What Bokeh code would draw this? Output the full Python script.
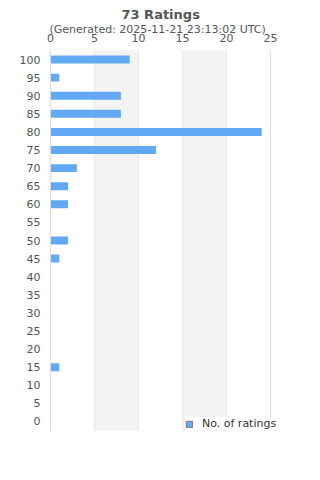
from bokeh.plotting import figure
from bokeh.models import Title, FixedTicker, Legend, LegendItem, Range1d, ColumnDataSource, BoxAnnotation
from bokeh.embed import file_html
from bokeh.resources import INLINE

ratings = [0, 5, 10, 15, 20, 25, 30, 35, 40, 45, 50, 55, 60, 65, 70, 75, 80, 85, 90, 95, 100]
counts = [0, 0, 0, 1, 0, 0, 0, 0, 0, 1, 2, 0, 2, 2, 3, 12, 24, 8, 8, 1, 9]
x_ticks = [0, 5, 10, 15, 20, 25]
bands = [(5, 10), (15, 20)]
title_text = "73 Ratings"
subtitle_text = "(Generated: 2025-11-21 23:13:02 UTC)"
series_name = "No. of ratings"

BAR = "#62a8f2"
TXT = "#555555"
FONT = "DejaVu Sans"
X_MAX = 25
X_EXTRA = 20 / 8.8   # empty room right of the axis so the legend is not clipped

p = figure(width=320, height=480, x_range=Range1d(0, X_MAX + X_EXTRA), y_range=Range1d(-2.5, 102.5),
           x_axis_location="above", output_backend="svg", toolbar_location=None,
           title_location=None, min_border_left=50, min_border_right=30,
           min_border_top=50, min_border_bottom=50)
p.background_fill_color = "white"
p.border_fill_color = "white"
p.outline_line_color = None

for b0, b1 in bands:
    p.add_layout(BoxAnnotation(left=b0, right=b1, fill_color="#f3f3f3", fill_alpha=1,
                               line_color=None, level="underlay"))

src = ColumnDataSource(dict(rating=ratings, count=counts))
r = p.hbar(y="rating", left=0, right="count", height=2.2, source=src,
           fill_color=BAR, line_color=None)
dummy = p.hbar(y=[-100], left=[0], right=[0], height=1, fill_color=BAR, line_color="#777777")

p.xgrid.ticker = FixedTicker(ticks=x_ticks)
p.xgrid.grid_line_color = "#dcdcdc"
p.ygrid.visible = False

# frame box of the value axis (0..25)
p.add_layout(BoxAnnotation(left=0, right=X_MAX, fill_alpha=0, line_color="#dddddd", line_width=1))

xa = p.xaxis[0]
xa.ticker = FixedTicker(ticks=x_ticks)
xa.axis_line_color = None
xa.major_tick_line_color = None
xa.minor_tick_line_color = None
xa.major_tick_out = 0
xa.major_tick_in = 0
xa.major_label_standoff = 9
xa.major_label_text_font = FONT
xa.major_label_text_font_size = "11px"
xa.major_label_text_color = TXT

ya = p.yaxis[0]
ya.ticker = FixedTicker(ticks=ratings)
ya.axis_line_color = "#dddddd"
ya.major_tick_line_color = None
ya.minor_tick_line_color = None
ya.major_tick_out = 0
ya.major_tick_in = 0
ya.major_label_standoff = 10
ya.major_label_text_font = FONT
ya.major_label_text_font_size = "11px"
ya.major_label_text_color = TXT

p.add_layout(Title(text=subtitle_text, align="left", offset=-1, text_font=FONT, text_font_size="11px",
                   text_font_style="normal", text_color=TXT, standoff=-10), "above")
p.add_layout(Title(text=title_text, align="left", offset=71, text_font=FONT, text_font_size="13px",
                   text_font_style="bold", text_color=TXT, standoff=8), "above")

legend = Legend(items=[LegendItem(label=series_name, renderers=[dummy])],
                location=(135, 0), background_fill_color="white", background_fill_alpha=1,
                border_line_color=None, padding=4, margin=0, glyph_width=8, glyph_height=8,
                label_standoff=9, label_text_font=FONT, label_text_font_size="11px",
                label_text_color="#333333")
p.add_layout(legend, "center")

open("out.html", "w").write(file_html(p, INLINE))
